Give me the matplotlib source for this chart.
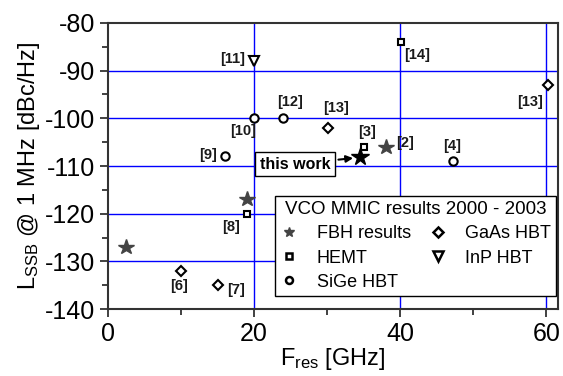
import matplotlib
matplotlib.use('Agg')
import matplotlib.pyplot as plt
from matplotlib.lines import Line2D

plt.rcParams['font.family'] = ['Liberation Sans', 'DejaVu Sans']
plt.rcParams['mathtext.default'] = 'regular'
plt.rcParams['axes.unicode_minus'] = False

# data (GHz, dBc/Hz)
fbh_x = [2.5, 19.0, 38.1]
fbh_y = [-127.0, -117.0, -106.0]
this_work = (34.5, -108.2)
hemt_x = [19.0, 35.1, 40.1]
hemt_y = [-120.0, -106.0, -84.0]
sige_x = [16.0, 20.0, 24.0, 47.2]
sige_y = [-108.0, -100.0, -100.0, -109.0]
gaas_x = [10.0, 15.1, 30.1, 60.3]
gaas_y = [-132.0, -135.0, -102.0, -93.0]
inp_x = [20.0]
inp_y = [-88.0]

# reference labels and where they sit
ref_labels = ['[11]', '[10]', '[9]', '[12]', '[13]', '[14]', '[13]',
              '[3]', '[2]', '[4]', '[8]', '[6]', '[7]']
ref_x = [17.0, 18.5, 13.7, 24.9, 31.2, 42.3, 57.8, 35.5, 40.7, 47.1, 16.8, 9.7, 17.5]
ref_y = [-87.6, -102.7, -107.7, -96.6, -97.8, -86.7, -96.6,
         -102.9, -105.2, -105.8, -122.8, -135.2, -136.0]

fig = plt.figure(figsize=(5.63, 3.76), dpi=100)
ax = fig.add_axes([0.192, 0.178, 0.799, 0.761])

ax.set_xlim(0, 61.6)
ax.set_ylim(-140, -80)
ax.set_xticks([0, 20, 40, 60])
ax.set_xticks([10, 30, 50], minor=True)
ax.set_yticks(range(-140, -79, 10))
ax.set_yticks(range(-135, -80, 10), minor=True)

for g in [20, 40, 60]:
    ax.axvline(g, color='#0000ff', lw=1.0, zorder=1)
for g in range(-130, -89, 10):
    ax.axhline(g, color='#0000ff', lw=1.0, zorder=1)

for s in ax.spines.values():
    s.set_color('#333333')
    s.set_linewidth(1.5)
ax.tick_params(which='both', direction='out', color='#333333', width=1.3,
               top=False, right=False, labelsize=18)
ax.tick_params(which='major', length=6)
ax.tick_params(which='minor', length=4)

open_kw = dict(ls='none', mfc='white', mec='black', mew=1.5, zorder=3)
ax.plot(fbh_x, fbh_y, ls='none', marker='*', ms=11.5, color='#444444', zorder=3)
ax.plot([this_work[0]], [this_work[1]], ls='none', marker='*', ms=13, color='black', zorder=4)
ax.plot(hemt_x, hemt_y, marker='s', ms=5, **open_kw)
ax.plot(sige_x, sige_y, marker='o', ms=6, **open_kw)
ax.plot(gaas_x, gaas_y, marker='D', ms=5.5, **open_kw)
ax.plot(inp_x, inp_y, marker='v', ms=6.5, **open_kw)

for lab, x, y in zip(ref_labels, ref_x, ref_y):
    ax.text(x, y, lab, fontsize=10.5, fontweight='bold', ha='center', va='center',
            color='#1a1a1a', zorder=5)

ax.annotate('this work', xy=this_work, xytext=(25.6, -109.6),
            fontsize=11.5, fontweight='bold', ha='center', va='center', zorder=6,
            bbox=dict(boxstyle='square,pad=0.3', fc='white', ec='black', lw=1.0),
            arrowprops=dict(arrowstyle='-|>', color='black', lw=1.5,
                            mutation_scale=10, shrinkB=5))

handles = [
    Line2D([], [], ls='none', marker='*', ms=7, color='#444444', label='FBH results'),
    Line2D([], [], ls='none', marker='s', ms=4.5, mfc='white', mec='black', mew=1.8, label='HEMT'),
    Line2D([], [], ls='none', marker='o', ms=5, mfc='white', mec='black', mew=1.8, label='SiGe HBT'),
    Line2D([], [], ls='none', marker='D', ms=5, mfc='white', mec='black', mew=1.8, label='GaAs HBT'),
    Line2D([], [], ls='none', marker='v', ms=6.5, mfc='white', mec='black', mew=1.8, label='InP HBT'),
]
leg = ax.legend(handles=handles, ncol=2, title='VCO MMIC results 2000 - 2003',
                loc='lower right', bbox_to_anchor=(0.996, 0.045), borderaxespad=0,
                fontsize=13, title_fontsize=13.5, fancybox=False, framealpha=1,
                edgecolor='black', handlelength=1.0, handletextpad=1.0,
                columnspacing=1.0, labelspacing=0.4, borderpad=0.3)
leg.get_frame().set_linewidth(1.0)
leg.set_zorder(7)

ax.set_ylabel(r'L$_{SSB}$ @ 1 MHz [dBc/Hz]', fontsize=17, labelpad=2)
ax.set_xlabel(r'F$_{res}$ [GHz]', fontsize=17, labelpad=0)

fig.savefig('out.png', dpi=100)
